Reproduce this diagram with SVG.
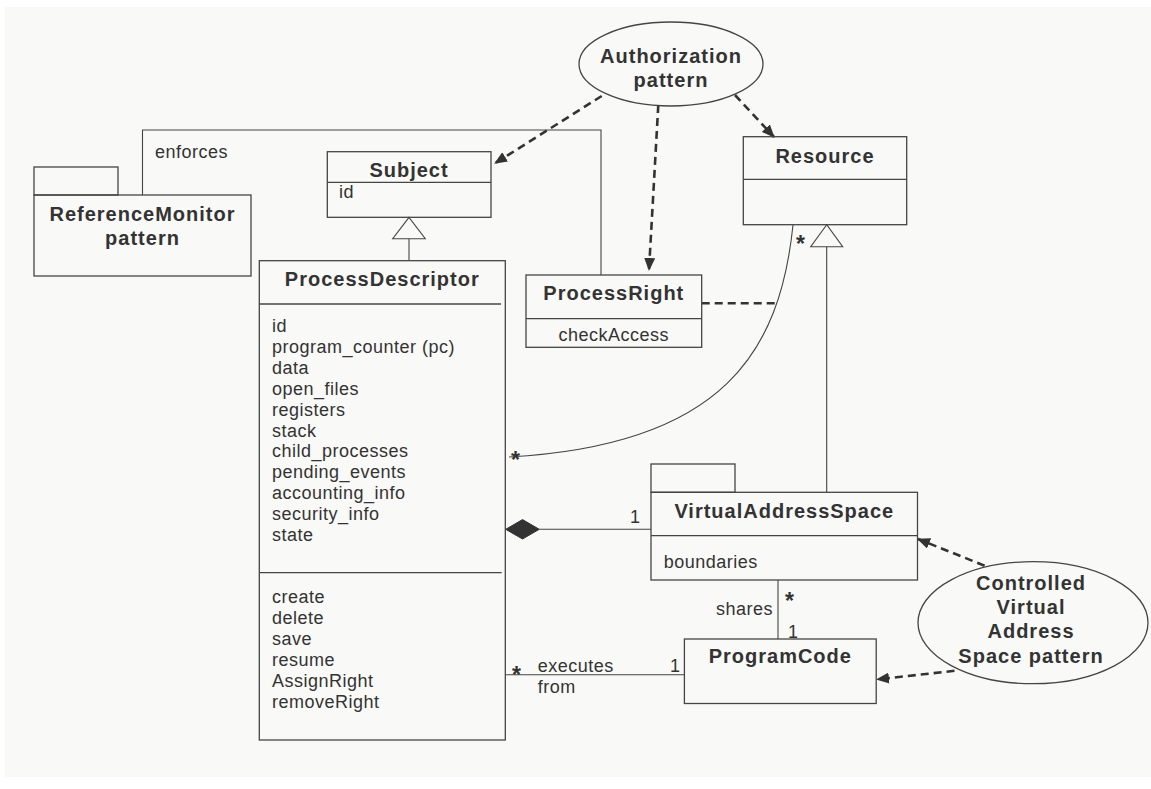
<svg xmlns="http://www.w3.org/2000/svg" width="1151" height="789" viewBox="0 0 1151 789">
<defs>
<style>
.box{fill:none;stroke:#454545;stroke-width:1.3}
.ln{fill:none;stroke:#454545;stroke-width:1.1}
.dash{fill:none;stroke:#333;stroke-width:2.6;stroke-dasharray:8 5}
.t{font-family:"Liberation Sans",Arial,sans-serif;font-size:18px;fill:#333;letter-spacing:0.5px}
.b{font-family:"Liberation Sans",Arial,sans-serif;font-size:20px;font-weight:bold;fill:#333;letter-spacing:1px}
.s{font-family:"Liberation Sans",Arial,sans-serif;font-size:23px;font-weight:bold;fill:#333}
.m{text-anchor:middle}
</style>
<marker id="ah" viewBox="0 0 13 11" refX="12" refY="5.5" markerWidth="13" markerHeight="11" markerUnits="userSpaceOnUse" orient="auto">
<path d="M0,0 L13,5.5 L0,11 Z" fill="#333"/>
</marker>
</defs>
<rect x="0" y="0" width="1151" height="789" fill="#ffffff"/>
<rect x="5" y="7" width="1146" height="770" fill="#f9f9f7"/>

<g id="connectors">
<!-- enforces -->
<polyline class="ln" points="142.5,195 142.5,130 601,130 601,275"/>
<text class="t" x="155" y="158">enforces</text>
<!-- generalization Subject -->
<polygon class="ln" points="409,217.3 392.7,238.7 425.3,238.7"/>
<line class="ln" x1="409" y1="238.7" x2="409" y2="260.7"/>
<!-- generalization Resource -->
<polygon class="ln" points="826.7,224.7 810.7,246.7 842.7,246.7"/>
<line class="ln" x1="826.7" y1="246.7" x2="826.7" y2="492.3"/>
<!-- association curve -->
<path class="ln" d="M793,225 C780,350 725,445 509,457"/>
<text class="s" x="796" y="252">*</text>
<text class="s" x="511" y="468">*</text>
<!-- association class dashed -->
<line class="dash" x1="701.7" y1="303.3" x2="777" y2="303.3"/>
<!-- composition -->
<line class="ln" x1="539.3" y1="529.3" x2="651" y2="529.3"/>
<polygon points="505.7,529.3 522.5,519.6 539.3,529.3 522.5,539" fill="#333" stroke="#333" stroke-width="1"/>
<text class="t" x="630" y="523">1</text>
<!-- shares -->
<line class="ln" x1="778" y1="580" x2="778" y2="639"/>
<text class="t" x="716" y="615">shares</text>
<text class="s" x="785" y="609">*</text>
<text class="t" x="788" y="638">1</text>
<!-- executes from -->
<line class="ln" x1="505.3" y1="674.7" x2="684.4" y2="674.7"/>
<text class="s" x="512" y="683">*</text>
<text class="t" x="537.7" y="671.7">executes</text>
<text class="t" x="537.7" y="692.7">from</text>
<text class="t" x="670" y="671.7">1</text>
<!-- dashed dependencies -->
<line class="dash" x1="601.7" y1="96" x2="495" y2="163.3" marker-end="url(#ah)"/>
<line class="dash" x1="658.3" y1="105" x2="649" y2="270" marker-end="url(#ah)"/>
<line class="dash" x1="735" y1="95" x2="774" y2="137" marker-end="url(#ah)"/>
<line class="dash" x1="984.6" y1="565.7" x2="918" y2="539" marker-end="url(#ah)"/>
<line class="dash" x1="954.5" y1="670.8" x2="877" y2="679.4" marker-end="url(#ah)"/>
</g>

<g id="authorization-pattern">
<ellipse class="box" cx="671" cy="64" rx="92" ry="42" fill="#f9f9f7"/>
<text class="b m" x="671" y="63">Authorization</text>
<text class="b m" x="671" y="87">pattern</text>
</g>

<g id="reference-monitor">
<rect class="box" x="34" y="167" width="84" height="28"/>
<rect class="box" x="34" y="195" width="217" height="81"/>
<text class="b m" x="142.5" y="221">ReferenceMonitor</text>
<text class="b m" x="142.5" y="245">pattern</text>
</g>

<g id="subject">
<rect class="box" x="327.3" y="151.7" width="163.7" height="65.6"/>
<line class="box" x1="327.3" y1="182.3" x2="491" y2="182.3"/>
<text class="b m" x="409" y="177">Subject</text>
<text class="t" x="339" y="198.3">id</text>
</g>

<g id="process-descriptor">
<rect class="box" x="259.3" y="260.7" width="246" height="479.3"/>
<line class="box" x1="259.3" y1="304" x2="501" y2="304"/>
<line class="box" x1="259.3" y1="572.7" x2="501.7" y2="572.7"/>
<text class="b m" x="382.3" y="286">ProcessDescriptor</text>
<text class="t" x="272" y="332.3">id</text>
<text class="t" x="272" y="353.1">program_counter (pc)</text>
<text class="t" x="272" y="374">data</text>
<text class="t" x="272" y="394.8">open_files</text>
<text class="t" x="272" y="415.7">registers</text>
<text class="t" x="272" y="436.5">stack</text>
<text class="t" x="272" y="457.3">child_processes</text>
<text class="t" x="272" y="478.2">pending_events</text>
<text class="t" x="272" y="499">accounting_info</text>
<text class="t" x="272" y="519.9">security_info</text>
<text class="t" x="272" y="540.7">state</text>
<text class="t" x="272" y="603.3">create</text>
<text class="t" x="272" y="624.3">delete</text>
<text class="t" x="272" y="645.2">save</text>
<text class="t" x="272" y="666">resume</text>
<text class="t" x="272" y="686.9">AssignRight</text>
<text class="t" x="272" y="707.8">removeRight</text>
</g>

<g id="process-right">
<rect class="box" x="526" y="275" width="175.7" height="72.3"/>
<line class="box" x1="526" y1="318.7" x2="701.7" y2="318.7"/>
<text class="b m" x="613.8" y="300">ProcessRight</text>
<text class="t m" x="613.8" y="340.7">checkAccess</text>
</g>

<g id="resource">
<rect class="box" x="743.3" y="136.7" width="163.4" height="88"/>
<line class="box" x1="743.3" y1="179.3" x2="906.7" y2="179.3"/>
<text class="b m" x="825" y="163">Resource</text>
</g>

<g id="virtual-address-space">
<rect class="box" x="651" y="464" width="84" height="28.3"/>
<rect class="box" x="651" y="492.3" width="266.5" height="87.7"/>
<line class="box" x1="651" y1="535.7" x2="917.5" y2="535.7"/>
<text class="b m" x="784.3" y="518.3">VirtualAddressSpace</text>
<text class="t" x="663.7" y="567.7">boundaries</text>
</g>

<g id="program-code">
<rect class="box" x="684.4" y="639" width="191.8" height="64.5"/>
<text class="b m" x="780.3" y="662.7">ProgramCode</text>
</g>

<g id="controlled-vas-pattern">
<ellipse class="box" cx="1033" cy="622.7" rx="115" ry="61" fill="#f9f9f7"/>
<text class="b m" x="1031" y="590">Controlled</text>
<text class="b m" x="1031" y="614.3">Virtual</text>
<text class="b m" x="1031" y="638.3">Address</text>
<text class="b m" x="1031" y="662.7">Space pattern</text>
</g>
</svg>
